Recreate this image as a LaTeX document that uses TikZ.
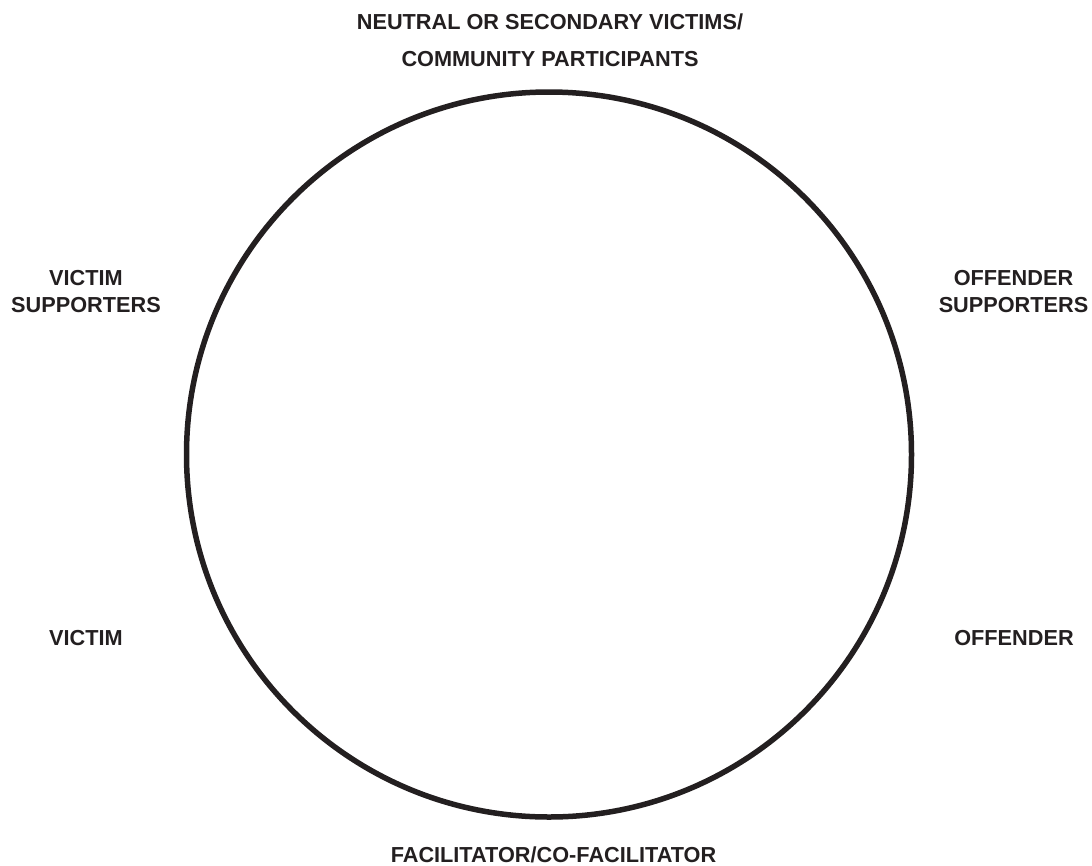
\documentclass[tikz,border=0pt]{standalone}
\usepackage{fontspec}
\setmainfont{Liberation Sans}
\definecolor{ink}{HTML}{231F20}
\begin{document}
\begin{tikzpicture}[x=1pt,y=-1pt,
  lbl/.style={inner sep=0pt, anchor=base, text=ink,
    font=\fontsize{21.7}{25}\selectfont\bfseries},
  ring/.style={draw=ink, line width=5.5pt}]
\useasboundingbox (0,0) rectangle (1092,865);
% circle of participants
\node[ring, circle, minimum size=725pt, inner sep=0pt] (circ) at (549,454.5) {};
% top labels
\node[lbl] (top1) at (550,29) {NEUTRAL OR SECONDARY VICTIMS/};
\node[lbl] (top2) at (550,66.5) {COMMUNITY PARTICIPANTS};
% left side
\node[lbl] (vs1) at (86,285) {VICTIM};
\node[lbl] (vs2) at (86,312) {SUPPORTERS};
\node[lbl] (vic) at (86,645) {VICTIM};
% right side
\node[lbl] (os1) at (1013.5,285) {OFFENDER};
\node[lbl] (os2) at (1013.5,312) {SUPPORTERS};
\node[lbl] (off) at (1014,645) {OFFENDER};
% bottom
\node[lbl] (fac) at (553.5,862) {FACILITATOR/CO-FACILITATOR};
\end{tikzpicture}
\end{document}
